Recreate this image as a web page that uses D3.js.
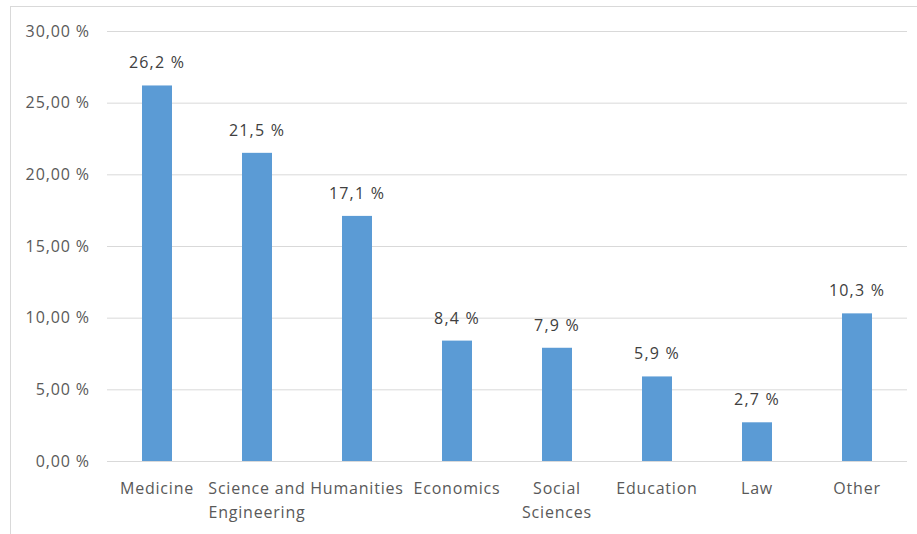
<!DOCTYPE html>
<html><head><meta charset="utf-8">
<script src="https://cdn.jsdelivr.net/npm/d3@7"></script>
<style>body{margin:0;background:#fff;} svg{display:block;}</style>
</head><body>
<svg id="c" width="917" height="534"></svg>
<script>
const categories = ["Medicine","Science and Engineering","Humanities","Economics","Social Sciences","Education","Law","Other"];
const values = [26.2, 21.5, 17.1, 8.4, 7.9, 5.9, 2.7, 10.3];
const yTicks = [0, 5, 10, 15, 20, 25, 30];

const svg = d3.select("#c");
const W = 917, H = 534;
const font = "'Open Sans', sans-serif";

svg.append("rect").attr("x",10.5).attr("y",6.5).attr("width",W+10).attr("height",H+10)
  .attr("fill","#fff").attr("stroke","#d9d9d9");

const x = d3.scaleBand().domain(categories).range([107, 907]).paddingInner(0.7).paddingOuter(0.35);
const y = d3.scaleLinear().domain([0,30]).range([461, 31]);

const fmtTick = d => d.toFixed(2).replace(".", ",") + " %";
const fmtVal = d => d.toFixed(1).replace(".", ",") + " %";

const yAxis = d3.axisLeft(y).tickValues(yTicks).tickSize(-(907-107)).tickFormat(fmtTick).tickPadding(17);
const gy = svg.append("g").attr("transform","translate(107,0)").call(yAxis);
gy.select(".domain").remove();
gy.selectAll(".tick line").attr("stroke","#d9d9d9").attr("stroke-width",1);
gy.selectAll(".tick text").attr("fill","#595959").style("font-family",font).style("font-size","16px")
  .style("letter-spacing","0.9px");

svg.append("g").selectAll("rect").data(values).join("rect")
  .attr("x",(d,i)=>x(categories[i]))
  .attr("width",x.bandwidth())
  .attr("y",d=>y(d))
  .attr("height",d=>y(0)-y(d))
  .attr("fill","#5b9bd5");

svg.append("g").selectAll("text").data(values).join("text")
  .attr("x",(d,i)=>x(categories[i])+x.bandwidth()/2)
  .attr("y",d=>y(d)-17)
  .attr("text-anchor","middle")
  .attr("fill","#404040")
  .style("font-family",font).style("font-size","16px").style("letter-spacing","1.2px")
  .text(d=>fmtVal(d));

const xAxis = d3.axisBottom(x).tickSize(0).tickPadding(0);
const gx = svg.append("g").attr("transform","translate(0,461)").call(xAxis);
gx.select(".domain").remove();
gx.selectAll(".tick text").each(function(d){
  const t = d3.select(this);
  t.text(null).attr("y",0).attr("dy",null).attr("fill","#595959")
   .style("font-family",font).style("font-size","16px").style("letter-spacing","0.8px");
  const words = d.split(" ");
  const lines = [];
  let cur = [];
  const tmp = t.append("tspan");
  words.forEach(w=>{
    const test = cur.concat([w]).join(" ");
    tmp.text(test);
    if (tmp.node().getComputedTextLength() > 104 && cur.length){ lines.push(cur.join(" ")); cur=[w]; }
    else cur.push(w);
  });
  lines.push(cur.join(" "));
  tmp.remove();
  lines.forEach((l,i)=>t.append("tspan").attr("x",0).attr("y",33+i*24).text(l));
});
</script>
</body></html>
